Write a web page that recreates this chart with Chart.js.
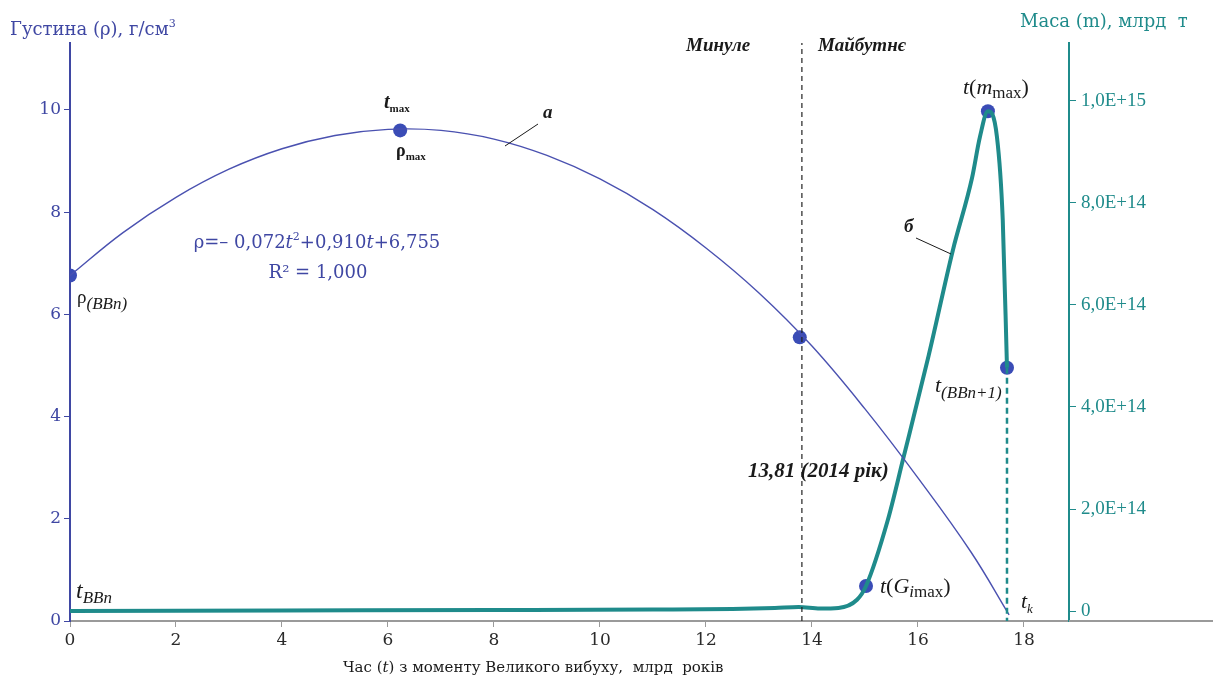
<!DOCTYPE html>
<html>
<head>
<meta charset="utf-8">
<script src="https://cdn.jsdelivr.net/npm/chart.js@4.4.1/dist/chart.umd.min.js"></script>
<style>
  html, body { margin: 0; background: #fff; }
  #wrap { width: 1213px; height: 681px; }
</style>
</head>
<body>
<div id="wrap"><canvas id="chart"></canvas></div>
<script>
const BLUE = '#3f47a3', TEAL = '#1f8b8b', DOT = '#3a4cb6', INK = '#1a1a1a';

// ticks
const xTicks = [0, 2, 4, 6, 8, 10, 12, 14, 16, 18];
const rhoTicks = [0, 2, 4, 6, 8, 10];
const massTicks = [0, 2e14, 4e14, 6e14, 8e14, 1e15];

// curve a: density, g/cm3
const rhoT = [0, 1, 2, 3, 4, 5, 6, 7, 8, 9, 10, 11, 12, 13, 14, 15, 16, 17, 17.72];
const rhoV = [6.76, 7.6, 8.29, 8.84, 9.24, 9.5, 9.62, 9.6, 9.43, 9.11, 8.65, 8.05, 7.3, 6.42, 5.38, 4.15, 2.8, 1.35, 0.12];
const rhoDotT = [0, 6.23, 13.77];
const rhoDotV = [6.76, 9.6, 5.55];

// curve б: mass, bn t
const massT = [0, 4, 8, 11, 12.5, 13.3, 13.75, 14.15, 14.5, 14.85, 15.02, 15.43, 15.72, 16.2, 16.66, 17.02, 17.17, 17.32, 17.49, 17.6, 17.68];
const massV = [0, 1e12, 2e12, 3e12, 4e12, 6e12, 8e12, 5e12, 6e12, 2.2e13, 4.9e13, 1.78e14, 2.98e14, 5.0e14, 7.08e14, 8.49e14, 9.3e14, 9.8e14, 9.3e14, 7.67e14, 4.77e14];
const massDotT = [15.02, 17.32, 17.68];
const massDotV = [4.9e13, 9.8e14, 4.77e14];

const nowT = 13.81;   // 2014
const endT = 17.68;   // t(BBn+1)

const X_MAX = 18.85, RHO_MAX = 11.31, M_MIN = -1.96e13, M_MAX = 1.1137e15;

const pts = (xs, ys) => xs.map((x, i) => ({ x: x, y: ys[i] }));

const SERIF = '"Liberation Serif", "DejaVu Serif", serif';
const WIDE = '"DejaVu Serif", "Liberation Serif", serif';
const f = (style, size) => `${style} ${size}px ${SERIF}`;
const w = (style, size) => `${style} ${size}px ${WIDE}`;

function rich(ctx, x, y, parts, color, align) {
    let tw = 0;
    parts.forEach(p => { ctx.font = p[1]; tw += ctx.measureText(p[0]).width; });
    let cx = align === 'center' ? x - tw / 2 : x;
    ctx.fillStyle = color;
    ctx.textAlign = 'left';
    ctx.textBaseline = 'alphabetic';
    parts.forEach(p => {
        ctx.font = p[1];
        ctx.fillText(p[0], cx, y + (p[2] || 0));
        cx += ctx.measureText(p[0]).width;
    });
}

function line(ctx, x1, y1, x2, y2) {
    ctx.beginPath(); ctx.moveTo(x1, y1); ctx.lineTo(x2, y2); ctx.stroke();
}

const labels = {
    id: 'labels',
    afterDraw(chart) {
        const ctx = chart.ctx, a = chart.chartArea;
        ctx.save();
        // x axis keeps going past the right axis
        ctx.strokeStyle = '#9a9a9a'; ctx.lineWidth = 2;
        line(ctx, a.right, a.bottom, chart.width, a.bottom);

        rich(ctx, 10, 35, [['Густина (ρ), г/см', w('', 18)], ['3', w('', 11), -8]], BLUE);
        rich(ctx, 1020, 27, [['Маса (m), млрд  т', w('', 18)]], TEAL);

        rich(ctx, 686, 51, [['Минуле', f('bold italic', 19)]], INK);
        rich(ctx, 818, 51, [['Майбутнє', f('bold italic', 19)]], INK);

        rich(ctx, 384, 108, [['t', f('bold italic', 20)], ['max', f('bold', 11), 4]], INK);
        rich(ctx, 396, 156, [['ρ', f('bold', 18)], ['max', f('bold', 11), 4]], INK);

        rich(ctx, 543, 118, [['a', f('bold italic', 19)]], INK);
        rich(ctx, 904, 232, [['б', f('bold italic', 19)]], INK);
        ctx.strokeStyle = INK; ctx.lineWidth = 1;
        line(ctx, 505, 146, 538, 124);
        line(ctx, 916, 238, 951, 254);

        rich(ctx, 317, 248, [['ρ=– 0,072', w('', 18)], ['t', w('italic', 18)], ['2', w('', 11), -8],
            ['+0,910', w('', 18)], ['t', w('italic', 18)], ['+6,755', w('', 18)]], BLUE, 'center');
        rich(ctx, 318, 278, [['R² = 1,000', w('', 18)]], BLUE, 'center');

        rich(ctx, 77, 303, [['ρ', f('', 19)], ['(BBn)', f('italic', 17), 6]], INK);
        rich(ctx, 76, 598, [['t', f('italic', 24)], ['BBn', f('italic', 17), 5]], INK);

        rich(ctx, 963, 94, [['t', f('italic', 22)], ['(', f('', 22)], ['m', f('italic', 22)],
            ['max', f('', 17), 4], [')', f('', 22)]], INK);
        rich(ctx, 935, 392, [['t', f('italic', 22)], ['(BBn+1)', f('italic', 17), 6]], INK);
        rich(ctx, 748, 477, [['13,81 (2014 рік)', f('bold italic', 21)]], INK);
        rich(ctx, 880, 593, [['t', f('italic', 22)], ['(', f('', 22)], ['G', f('italic', 22)],
            ['i', f('italic', 17), 4], ['max', f('', 17), 4], [')', f('', 22)]], INK);
        rich(ctx, 1021, 608, [['t', f('italic', 22)], ['k', f('italic', 13), 5]], INK);

        rich(ctx, 343, 672, [['Час (', w('', 15)], ['t', w('italic', 15)],
            [') з моменту Великого вибуху,  млрд  років', w('', 15)]], INK);
        ctx.restore();
    }
};

const sci = v => v === 0 ? '0' : v.toExponential(1).replace('.', ',').replace('e+', 'E+');

new Chart(document.getElementById('chart'), {
    type: 'scatter',
    data: {
        datasets: [
            { data: [{ x: nowT, y: 0 }, { x: nowT, y: RHO_MAX }], yAxisID: 'y', showLine: true,
              borderColor: '#222', borderWidth: 1.2, borderDash: [5, 4], pointRadius: 0 },
            { data: [{ x: endT, y: massDotV[2] }, { x: endT, y: M_MIN }], yAxisID: 'y1', showLine: true,
              borderColor: TEAL, borderWidth: 2.5, borderDash: [6, 4], pointRadius: 0 },
            { data: pts(rhoT, rhoV), yAxisID: 'y', showLine: true, borderColor: '#4a51b0',
              borderWidth: 1.4, pointRadius: 0, tension: 0.4 },
            { data: pts(massT, massV), yAxisID: 'y1', showLine: true, borderColor: TEAL,
              borderWidth: 4, pointRadius: 0, cubicInterpolationMode: 'monotone' },
            { data: pts(rhoDotT, rhoDotV), yAxisID: 'y', pointRadius: 7, backgroundColor: DOT, borderWidth: 0 },
            { data: pts(massDotT, massDotV), yAxisID: 'y1', pointRadius: 7, backgroundColor: DOT, borderWidth: 0 }
        ]
    },
    options: {
        responsive: true,
        maintainAspectRatio: false,
        animation: false,
        layout: { padding: { top: 43, left: 0, right: 0, bottom: 0 } },
        plugins: { legend: { display: false }, tooltip: { enabled: false } },
        scales: {
            x: {
                type: 'linear', min: 0, max: X_MAX,
                afterBuildTicks: s => { s.ticks = xTicks.map(v => ({ value: v })); },
                afterFit: s => { s.height = 60; },
                ticks: { color: '#2a2a2a', font: { family: WIDE, size: 17 }, padding: 3 },
                grid: { drawOnChartArea: false, color: '#9a9a9a', tickLength: 6 },
                border: { color: '#9a9a9a', width: 2 }
            },
            y: {
                position: 'left', min: 0, max: RHO_MAX,
                afterBuildTicks: s => { s.ticks = rhoTicks.map(v => ({ value: v })); },
                afterFit: s => { s.width = 70; },
                ticks: { color: BLUE, font: { family: WIDE, size: 17 }, padding: 3 },
                grid: { drawOnChartArea: false, color: BLUE, tickLength: 6 },
                border: { color: BLUE, width: 2 }
            },
            y1: {
                position: 'right', min: M_MIN, max: M_MAX,
                afterBuildTicks: s => { s.ticks = massTicks.map(v => ({ value: v })); },
                afterFit: s => { s.width = 144; },
                ticks: { color: TEAL, font: { family: SERIF, size: 19 }, padding: 5, callback: v => sci(v) },
                grid: { drawOnChartArea: false, color: TEAL, tickLength: 7 },
                border: { color: TEAL, width: 2 }
            }
        }
    },
    plugins: [labels]
});
</script>
</body>
</html>
